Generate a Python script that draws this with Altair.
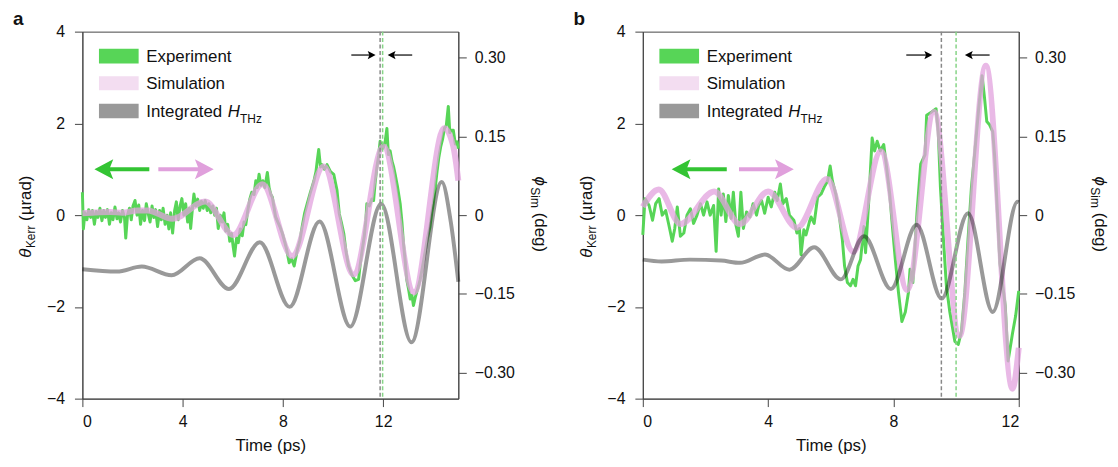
import altair as alt
import pandas as pd

FONT = "Liberation Sans, Arial, DejaVu Sans"

# ---------------- panel a data ----------------
a_exp_t = [0.00, 0.04, 0.10, 0.18, 0.25, 0.33, 0.40, 0.48, 0.55, 0.62, 0.70, 0.78, 0.85, 0.92, 1.00, 1.08,
           1.15, 1.22, 1.30, 1.38, 1.45, 1.52, 1.60, 1.68, 1.73, 1.80, 1.88, 1.95, 2.02, 2.10, 2.18, 2.25,
           2.32, 2.40, 2.48, 2.55, 2.62, 2.70, 2.78, 2.85, 2.92, 3.00, 3.08, 3.15, 3.22, 3.30, 3.38, 3.45,
           3.52, 3.60, 3.68, 3.75, 3.82, 3.90, 3.97, 4.05, 4.12, 4.20, 4.27, 4.32, 4.40, 4.45, 4.52, 4.60,
           4.68, 4.75, 4.82, 4.90, 4.98, 5.05, 5.12, 5.20, 5.28, 5.35, 5.42, 5.50, 5.58, 5.65, 5.72, 5.80,
           5.88, 5.95, 6.02, 6.07, 6.15, 6.22, 6.30, 6.38, 6.45, 6.52, 6.60, 6.68, 6.76, 6.85, 6.92, 6.98,
           7.05, 7.12, 7.20, 7.28, 7.38, 7.45, 7.52, 7.58, 7.71, 7.80, 7.88, 7.98, 8.08, 8.15, 8.25, 8.35,
           8.45, 8.58, 8.68, 8.77, 8.87, 8.97, 9.10, 9.24, 9.32, 9.37, 9.43, 9.50, 9.56, 9.66, 9.76, 9.90,
           10.03, 10.10, 10.16, 10.25, 10.33, 10.43, 10.52, 10.62, 10.75, 10.89, 11.02, 11.08, 11.15, 11.25,
           11.31, 11.35, 11.45, 11.55, 11.62, 11.68, 11.75, 11.82, 11.88, 11.95, 12.01, 12.08, 12.15, 12.21,
           12.28, 12.35, 12.42, 12.48, 12.58, 12.68, 12.75, 12.81, 12.88, 12.94, 13.01, 13.08, 13.15, 13.21,
           13.28, 13.34, 13.41, 13.48, 13.58, 13.67, 13.77, 13.87, 13.94, 14.00, 14.08, 14.15, 14.22, 14.30,
           14.37, 14.45, 14.52, 14.60, 14.66, 14.72, 14.80, 14.88, 14.95, 15.00]
a_exp_v = [0.50, -0.30, 0.05, -0.10, 0.12, -0.05, 0.10, -0.20, 0.08, -0.05, 0.15, -0.12, 0.10, -0.05, 0.12, -0.20,
           0.05, -0.10, 0.18, -0.08, 0.05, -0.15, 0.10, -0.05, -0.50, 0.00, 0.15, -0.10, 0.20, 0.32, 0.00, 0.22,
           -0.20, 0.10, -0.12, 0.25, 0.05, -0.15, 0.20, -0.05, 0.12, -0.25, 0.10, -0.10, 0.15, -0.20, 0.00, -0.30,
           0.05, -0.39, 0.10, 0.29, -0.10, 0.20, 0.36, 0.00, 0.25, -0.15, 0.15, -0.29, 0.20, 0.46, 0.20, 0.35,
           0.10, 0.30, 0.15, 0.32, 0.10, 0.25, 0.05, 0.20, 0.00, 0.15, -0.29, 0.00, -0.15, 0.05, -0.35, -0.20,
           -0.57, -0.40, -0.70, -0.89, -0.50, -0.60, -0.30, -0.45, -0.15, -0.21, 0.10, 0.35, 0.50, 0.45, 0.75, 0.60,
           0.89, 0.65, 0.75, 0.60, 0.93, 0.60, 0.45, 0.39, -0.04, -0.15, -0.25, -0.40, -0.60, -0.75, -1.04, -0.95,
           -1.11, -0.75, -0.55, -0.25, 0.05, 0.25, 0.50, 0.75, 0.95, 1.18, 1.43, 1.05, 1.10, 1.00, 1.10, 0.95,
           0.89, 0.70, 0.54, 0.03, -0.15, -0.40, -0.80, -1.11, -1.30, -1.43, -1.40, -1.10, -0.82, -0.45,
           -0.11, 0.25, 0.20, 0.35, 0.32, 0.70, 1.04, 1.30, 1.61, 1.45, 1.47, 1.60, 1.89, 1.32,
           1.40, 1.18, 1.05, 0.89, 0.60, 0.25, -0.15, -0.61, -1.00, -1.40, -1.60, -1.83, -1.75, -1.97,
           -1.80, -1.68, -1.55, -1.40, -1.10, -0.82, -0.50, -0.25, 0.05, 0.25, 0.60, 0.95, 1.25, 1.50,
           1.65, 1.90, 1.95, 2.37, 1.80, 1.85, 1.85, 1.55, 1.60, 1.45]

a_sim_t = [0.0, 0.5, 1.1, 1.6, 2.2, 2.6, 3.6, 4.9, 6.02, 7.18, 8.37, 9.63, 10.82, 12.01, 13.23, 14.44, 14.8, 15.0]
a_sim_deg = [0.0035, 0.005, 0.006, 0.0045, 0.009, 0.009, -0.007, 0.026, -0.038, 0.059, -0.078, 0.093,
             -0.113, 0.131, -0.147, 0.166, 0.131, 0.066]

a_int_t = [0.0, 1.38, 2.37, 3.56, 4.68, 5.85, 7.08, 8.27, 9.46, 10.69, 11.92, 13.13, 14.34, 14.7, 15.0]
a_int_v = [-1.18, -1.23, -1.12, -1.31, -0.94, -1.61, -0.59, -2.00, -0.14, -2.43, 0.25, -2.77, 0.72, -0.15, -1.45]

a_dash_gray = [11.88]
a_dash_green = [11.98]
a_small_arrows = {"tail": [10.73, 13.16], "tip": [11.70, 12.18], "y": [3.49, 3.49]}
a_big_arrows = {"tail": [2.67, 3.03], "tip": [0.48, 5.24], "y": [1.0, 1.0]}

# ---------------- panel b data ----------------
b_exp_t = [0.00, 0.07, 0.20, 0.31, 0.41, 0.52, 0.62, 0.73, 0.83, 0.94, 1.02, 1.10, 1.20, 1.31, 1.41, 1.52,
           1.62, 1.73, 1.84, 1.94, 2.05, 2.15, 2.26, 2.34, 2.42, 2.50, 2.57, 2.65, 2.73, 2.82, 2.89, 2.97,
           3.05, 3.13, 3.21, 3.31, 3.42, 3.52, 3.63, 3.70, 3.79, 3.89, 4.00, 4.10, 4.21, 4.29, 4.39, 4.47,
           4.58, 4.68, 4.82, 4.92, 5.00, 5.05, 5.14, 5.21, 5.32, 5.37, 5.47, 5.58, 5.69, 5.79, 5.90, 5.98,
           6.05, 6.16, 6.26, 6.37, 6.44, 6.53, 6.63, 6.71, 6.79, 6.87, 6.95, 7.06, 7.11, 7.22, 7.32, 7.40,
           7.48, 7.58, 7.69, 7.77, 7.88, 7.95, 8.06, 8.16, 8.27, 8.38, 8.48, 8.53, 8.62, 8.75, 8.87, 9.01,
           9.06, 9.22, 9.36, 9.43, 9.50, 9.59, 9.69, 9.80, 9.96, 10.07, 10.17, 10.28, 10.38, 10.49, 10.59,
           10.73, 10.83, 10.91, 10.98, 11.07, 11.17, 11.23, 11.40, 11.57, 11.66, 11.80, 11.90, 12.00]
b_exp_v = [-0.43, 0.36, 0.21, -0.11, 0.25, 0.36, 0.00, 0.10, -0.21, -0.57, -0.29, 0.18, -0.46, -0.39, 0.00, 0.14,
           -0.18, 0.00, 0.25, 0.00, 0.29, 0.00, 0.21, -0.79, 0.57, 0.00, 0.46, -0.14, 0.43, -0.07, 0.50, -0.21,
           -0.46, 0.50, -0.29, 0.07, -0.04, 0.25, 0.00, 0.21, 0.32, 0.04, 0.39, 0.18, 0.50, 0.32, 0.68, 0.25,
           0.36, 0.00, -0.11, -0.39, -0.29, -0.86, -0.32, -0.43, -0.14, -0.04, -0.18, 0.39, 0.46, 0.61, 0.75, 1.07,
           0.75, 0.46, 0.04, -0.54, -1.11, -1.47, -1.54, -1.40, -1.54, -1.11, -0.97, -0.25, -0.82, 0.39, 1.68, 1.40,
           1.61, 1.40, 1.54, 1.11, 0.47, -0.11, -0.97, -1.68, -2.32, -2.11, -1.68, -1.18, -1.47, 0.04, 1.11, 1.32,
           2.18, 2.25, 2.32, 1.82, 0.61, -0.46, -1.54, -2.11, -2.75, -2.82, -2.54, -1.68, -0.54, 0.61, 1.32,
           2.39, 3.04, 2.54, 2.04, 1.97, 1.82, 1.29, -1.05, -1.98, -3.18, -2.58, -2.20, -1.65]

b_sim_t = [0.0, 0.51, 1.2, 2.28, 3.1, 4.0, 4.92, 5.88, 6.72, 7.6, 8.44, 9.3, 10.11, 10.95, 11.8, 12.0]
b_sim_deg = [0.016, 0.049, -0.017, 0.045, -0.017, 0.045, -0.024, 0.069, -0.070, 0.122, -0.143, 0.197,
             -0.230, 0.285, -0.331, -0.253]

b_int_t = [0.0, 0.6, 1.5, 2.5, 3.1, 3.9, 4.68, 5.47, 6.32, 7.06, 7.92, 8.74, 9.54, 10.38, 11.17, 11.96, 12.0]
b_int_v = [-0.97, -1.01, -0.97, -0.99, -1.04, -0.86, -1.19, -0.70, -1.40, -0.46, -1.61, -0.21, -1.82, 0.04,
           -2.11, 0.29, 0.28]

b_dash_gray = [9.53]
b_dash_green = [10.0]
b_small_arrows = {"tail": [8.41, 11.07], "tip": [9.24, 10.28], "y": [3.49, 3.49]}
b_big_arrows = {"tail": [2.68, 3.07], "tip": [0.92, 4.82], "y": [1.0, 1.0]}

# ---------------- styling ----------------
GREEN = "#57D557"
GREEN_ARROW = "#33C433"
PINK = "#E2A2DE"
PINK_LEG = "#F3DDF1"
GRAY_LEG = "#999999"
W, H = 379, 370

LEFT_HEAD = "M-1,0 L0.9,-1 L0.5,0 L0.9,1 Z"
RIGHT_HEAD = "M1,0 L-0.9,-1 L-0.5,0 L-0.9,1 Z"

ONE = pd.DataFrame({"k": [0]})


def txt(s, x, y, size=17, angle=0, style="normal", weight="normal", align="left"):
    return alt.Chart(ONE).mark_text(
        text=s, font=FONT, fontSize=size, angle=angle, fontStyle=style, fontWeight=weight,
        align=align, baseline="alphabetic", color="#111111"
    ).encode(x=alt.value(x), y=alt.value(y))


def swatch(color, y0, y1):
    return alt.Chart(ONE).mark_rect(color=color).encode(
        x=alt.value(16.7), x2=alt.value(56.7), y=alt.value(y0), y2=alt.value(y1))


def panel(label, xmax, exp_t, exp_v, sim_t, sim_v, int_t, int_v, dash_gray, dash_green, small, big):
    xs = alt.Scale(domain=[0, xmax], nice=False, zero=False)
    ys = alt.Scale(domain=[-4, 4], nice=False, zero=False)
    rs = alt.Scale(domain=[-0.35, 0.35], nice=False, zero=False)
    xax = alt.Axis(values=[0, 4, 8, 12], format="d", title="Time (ps)", tickSize=8,
                   labelPadding=7, titlePadding=8)
    lax = alt.Axis(values=[-4, -2, 0, 2, 4], format="d", title=None, tickSize=8, labelPadding=10)
    rax = alt.Axis(values=[-0.3, -0.15, 0, 0.15, 0.3], orient="right", title=None, tickSize=8,
                   labelPadding=8, labelExpr="datum.value == 0 ? '0' : format(datum.value, '.2f')")

    def X(f):
        return alt.X(f, type="quantitative", scale=xs, axis=xax)

    def Y(f):
        return alt.Y(f, type="quantitative", scale=ys, axis=None)

    df_exp = pd.DataFrame({"t": exp_t, "v": exp_v})
    df_sim = pd.DataFrame({"t": sim_t, "v": sim_v})
    df_int = pd.DataFrame({"t": int_t, "v": int_v})

    exp = alt.Chart(df_exp).mark_line(color=GREEN, strokeWidth=3, strokeJoin="round").encode(
        x=X("t"), y=alt.Y("v:Q", scale=ys, axis=lax))
    sim = alt.Chart(df_sim).mark_line(color=PINK, strokeWidth=6, opacity=0.75, interpolate="monotone").encode(
        x=X("t"), y=alt.Y("v:Q", scale=rs, axis=rax))
    integ = alt.Chart(df_int).mark_line(color="black", strokeWidth=4, opacity=0.4, interpolate="monotone").encode(
        x=X("t"), y=Y("v"))

    dg = alt.Chart(pd.DataFrame({"t": dash_gray})).mark_rule(
        color="#888888", strokeWidth=1.5, strokeDash=[4, 2.5]).encode(x=X("t"))
    dgr = alt.Chart(pd.DataFrame({"t": dash_green})).mark_rule(
        color="#86D486", strokeWidth=1.5, strokeDash=[4, 2.5]).encode(x=X("t"))

    layers = [exp, sim, integ, dg, dgr]

    # small black arrows: first points right, second points left
    for i in range(2):
        d = pd.DataFrame({"t0": [small["tail"][i]], "t1": [small["tip"][i]], "y": [small["y"][i]]})
        sgn = -1 if i == 0 else 1
        layers.append(alt.Chart(d).mark_rule(color="black", strokeWidth=1.2, x2Offset=sgn * 4).encode(
            x=X("t0"), x2="t1", y=Y("y")))
        layers.append(alt.Chart(d).mark_point(
            shape=RIGHT_HEAD if i == 0 else LEFT_HEAD, size=70, filled=True, color="black", opacity=1,
            strokeWidth=0, xOffset=sgn * 4.2).encode(x=X("t1"), y=Y("y")))

    # big coloured arrows: green points left, pink points right
    cols = [GREEN_ARROW, "#E0A0DC"]
    for i in range(2):
        d = pd.DataFrame({"t0": [big["tail"][i]], "t1": [big["tip"][i]], "y": [big["y"][i]]})
        sgn = 1 if i == 0 else -1
        layers.append(alt.Chart(d).mark_rule(color=cols[i], strokeWidth=4, x2Offset=sgn * 10).encode(
            x=X("t0"), x2="t1", y=Y("y")))
        layers.append(alt.Chart(d).mark_point(
            shape=LEFT_HEAD if i == 0 else RIGHT_HEAD, size=400, filled=True, color=cols[i], opacity=1,
            strokeWidth=0, xOffset=sgn * 10).encode(x=X("t1"), y=Y("y")))

    # legend
    layers += [
        swatch(GREEN, 17.3, 32), swatch(PINK_LEG, 45, 59), swatch(GRAY_LEG, 72.7, 87.3),
        txt("Experiment", 64.4, 30.7), txt("Simulation", 64.4, 58.3), txt("Integrated", 64.4, 86),
        txt("H", 146.5, 86, style="italic"), txt("THz", 159, 91.7, size=12),
    ]
    # left axis title (rotated)
    layers += [
        txt("θ", -51.5, 228, angle=270, style="italic"),
        txt("Kerr", -47.5, 218.2, size=12, angle=270),
        txt("(µrad)", -51.5, 190.8, angle=270),
    ]
    # right axis title (rotated)
    layers += [
        txt("ϕ", W + 77, 146, angle=90, style="italic"),
        txt("Sim", W + 73, 157, size=12, angle=90),
        txt("(deg)", W + 77, 182.5, angle=90),
    ]
    # panel label
    layers.append(txt(label, -70, -7, size=19, weight="bold"))

    return alt.layer(*layers).resolve_scale(y="independent").properties(width=W, height=H)


pa = panel("a", 15, a_exp_t, a_exp_v, a_sim_t, a_sim_deg, a_int_t, a_int_v,
           a_dash_gray, a_dash_green, a_small_arrows, a_big_arrows)
pb = panel("b", 12, b_exp_t, b_exp_v, b_sim_t, b_sim_deg, b_int_t, b_int_v,
           b_dash_gray, b_dash_green, b_small_arrows, b_big_arrows)

chart = alt.hconcat(pa, pb, spacing=23).properties(
    padding={"left": 4, "top": -1, "right": 0, "bottom": 0}
).configure_view(stroke="#444444", strokeWidth=1).configure_axis(
    domainColor="#444444", tickColor="#444444", domainWidth=1, tickWidth=1, grid=False,
    labelColor="#111111", labelFont=FONT, labelFontSize=16,
    titleColor="#111111", titleFont=FONT, titleFontSize=17, titleFontWeight="normal"
)

chart.save("out.html", embed_options={"renderer": "svg", "actions": False})
